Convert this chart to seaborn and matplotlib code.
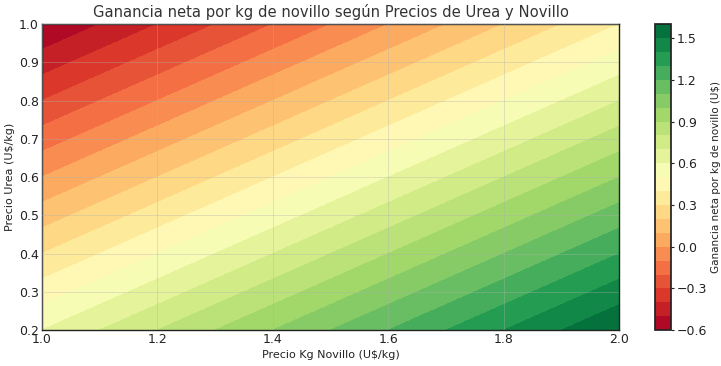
import numpy as np
import matplotlib
matplotlib.use("Agg")
import matplotlib.pyplot as plt
import seaborn as sns

# Ejes de precios (U$/kg)
precio_novillo = np.linspace(1.0, 2.0, 101)
precio_urea = np.linspace(0.2, 1.0, 81)

# Modelo lineal: G = a*Pn - b*Pu - c
coef_novillo = 1.0
coef_urea = 1.5
costo_fijo = 0.1

niveles = np.round(np.arange(-0.6, 1.61, 0.1), 2)
cbar_ticks = [-0.6, -0.3, 0.0, 0.3, 0.6, 0.9, 1.2, 1.5]
x_ticks = [1.0, 1.2, 1.4, 1.6, 1.8, 2.0]
y_ticks = [0.2, 0.3, 0.4, 0.5, 0.6, 0.7, 0.8, 0.9, 1.0]

sns.set_theme(style="white")
plt.rcParams['font.family'] = ['DejaVu Sans']

PN, PU = np.meshgrid(precio_novillo, precio_urea)
ganancia = coef_novillo * PN - coef_urea * PU - costo_fijo

fig = plt.figure(figsize=(7.21, 3.66), dpi=100)
ax = fig.add_axes([0.058, 0.098, 0.801, 0.836])
cax = fig.add_axes([0.9085, 0.098, 0.0215, 0.836])

cf = ax.contourf(PN, PU, ganancia, levels=niveles, cmap="RdYlGn")

ax.set_xlim(1.0, 2.0)
ax.set_ylim(0.2, 1.0)
ax.set_xticks(x_ticks)
ax.set_yticks(y_ticks)
ax.grid(True, color="#b0b0b0", linewidth=0.5, alpha=0.5)
ax.set_axisbelow(False)
ax.tick_params(direction="in", length=3, width=0.8, colors="#222222",
               labelsize=9, pad=2)
for s in ax.spines.values():
    s.set_color("#222222")
    s.set_linewidth(1.0)

ax.set_title("Ganancia neta por kg de novillo según Precios de Urea y Novillo",
             fontsize=10.6, color="#333333", pad=5)
ax.set_xlabel("Precio Kg Novillo (U$/kg)", fontsize=8, color="#222222", labelpad=3)
ax.set_ylabel("Precio Urea (U$/kg)", fontsize=8, color="#222222", labelpad=3)

cb = fig.colorbar(cf, cax=cax)
cb.set_ticks(cbar_ticks)
cb.ax.set_yticklabels([f"{t:.1f}".replace("-", "\u2212") for t in cbar_ticks])
cb.ax.tick_params(direction="out", length=2.5, width=0.8, labelsize=9,
                  colors="#222222", pad=2)
cb.outline.set_edgecolor("#222222")
cb.set_label("Ganancia neta por kg de novillo (U$)", fontsize=7.5,
             color="#222222", labelpad=3)

fig.savefig("out.png", dpi=100)
